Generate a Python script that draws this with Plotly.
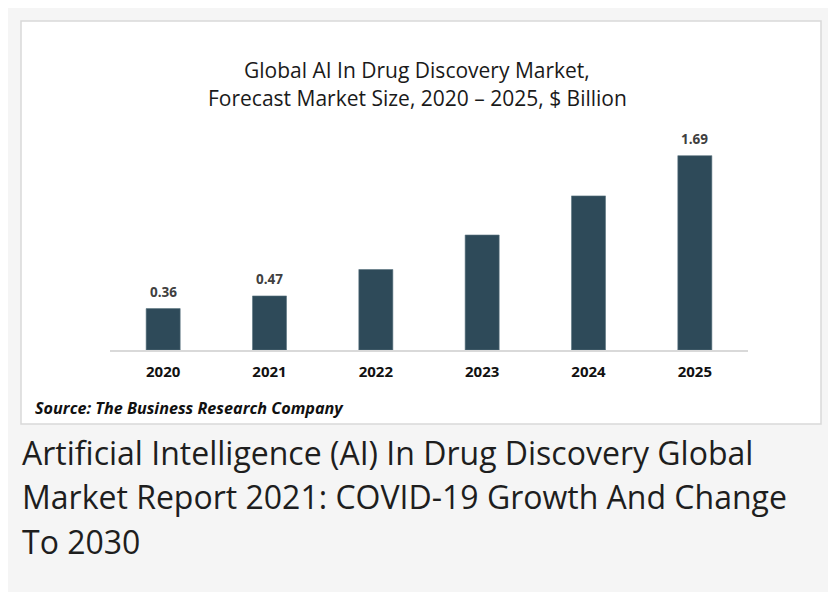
import plotly.graph_objects as go

years = ["2020", "2021", "2022", "2023", "2024", "2025"]
values = [0.36, 0.47, 0.70, 1.00, 1.34, 1.69]
value_labels = ["0.36", "0.47", "", "", "", "1.69"]
title_lines = ["Global AI In Drug Discovery Market,",
               "Forecast Market Size, 2020 \u2013 2025, $ Billion"]
source_text = "Source: The Business Research Company"
caption_lines = ["Artificial Intelligence (AI) In Drug Discovery Global",
                 "Market Report 2021: COVID-19 Growth And Change",
                 "To 2030"]

W, H = 836, 592
OFF = 8  # page body margin
# plot area in window pixels: x 110..748, y 120..350
L = 110 - OFF
R = W - (748 - OFF)
T = 120 - OFF
B = H - (350 - OFF)
PW, PH = W - L - R, H - T - B


def px(x):
    return (x - OFF - L) / PW


def py(y):
    return (H - B - (y - OFF)) / PH


FONT = "Open Sans"

fig = go.Figure()
fig.add_trace(go.Bar(
    x=years, y=values,
    marker=dict(color="#2e4a59", line=dict(color="#5b7380", width=0.6)),
    width=0.32,
    hoverinfo="skip",
))

annotations = []
for i, (v, lab) in enumerate(zip(values, value_labels)):
    if lab:
        annotations.append(dict(x=i, y=v, xref="x", yref="y", text=lab,
                                showarrow=False, yanchor="bottom", yshift=6,
                                font=dict(family=FONT, size=13.5, color="#404040",
                                          weight="bold")))

for line, yy in zip(title_lines, [70, 98]):
    annotations.append(dict(x=px(417), y=py(yy), xref="paper", yref="paper",
                            text=line, showarrow=False, xanchor="center",
                            yanchor="middle",
                            font=dict(family=FONT, size=21, color="#1a1a1a")))

annotations.append(dict(x=px(33), y=py(408), xref="paper", yref="paper",
                        text="<b><i>" + source_text + "</i></b>", showarrow=False,
                        xanchor="left", yanchor="middle",
                        font=dict(family=FONT, size=16.2, color="#111111")))

for line, yy in zip(caption_lines, [452, 496, 541]):
    annotations.append(dict(x=px(20), y=py(yy), xref="paper", yref="paper",
                            text=line, showarrow=False, xanchor="left",
                            yanchor="middle",
                            font=dict(family=FONT, size=32, color="#1e1e1e")))

shapes = [
    dict(type="rect", xref="paper", yref="paper", layer="below",
         x0=px(7), x1=px(860), y0=py(620), y1=py(7),
         fillcolor="#f5f5f5", line=dict(color="#e0e0e0", width=1.5)),
    dict(type="rect", xref="paper", yref="paper", layer="below",
         x0=px(21), x1=px(821), y0=py(424), y1=py(21),
         fillcolor="#ffffff", line=dict(color="#d9d9d9", width=1.5)),
]

fig.update_layout(
    width=W, height=H,
    margin=dict(l=L, r=R, t=T, b=B, autoexpand=False),
    paper_bgcolor="#ffffff",
    plot_bgcolor="rgba(0,0,0,0)",
    showlegend=False,
    annotations=annotations,
    shapes=shapes,
    xaxis=dict(type="category", range=[-0.5, len(years) - 0.5],
               showline=True, linecolor="#d9d9d9", linewidth=1.5,
               ticks="outside", ticklen=7, tickcolor="rgba(0,0,0,0)",
               showgrid=False, zeroline=False,
               tickfont=dict(family=FONT, size=15, color="#111111", weight="bold")),
    yaxis=dict(range=[0, PH / 115.0], visible=False, showgrid=False,
               zeroline=False),
)

fig.write_html("out.html")
